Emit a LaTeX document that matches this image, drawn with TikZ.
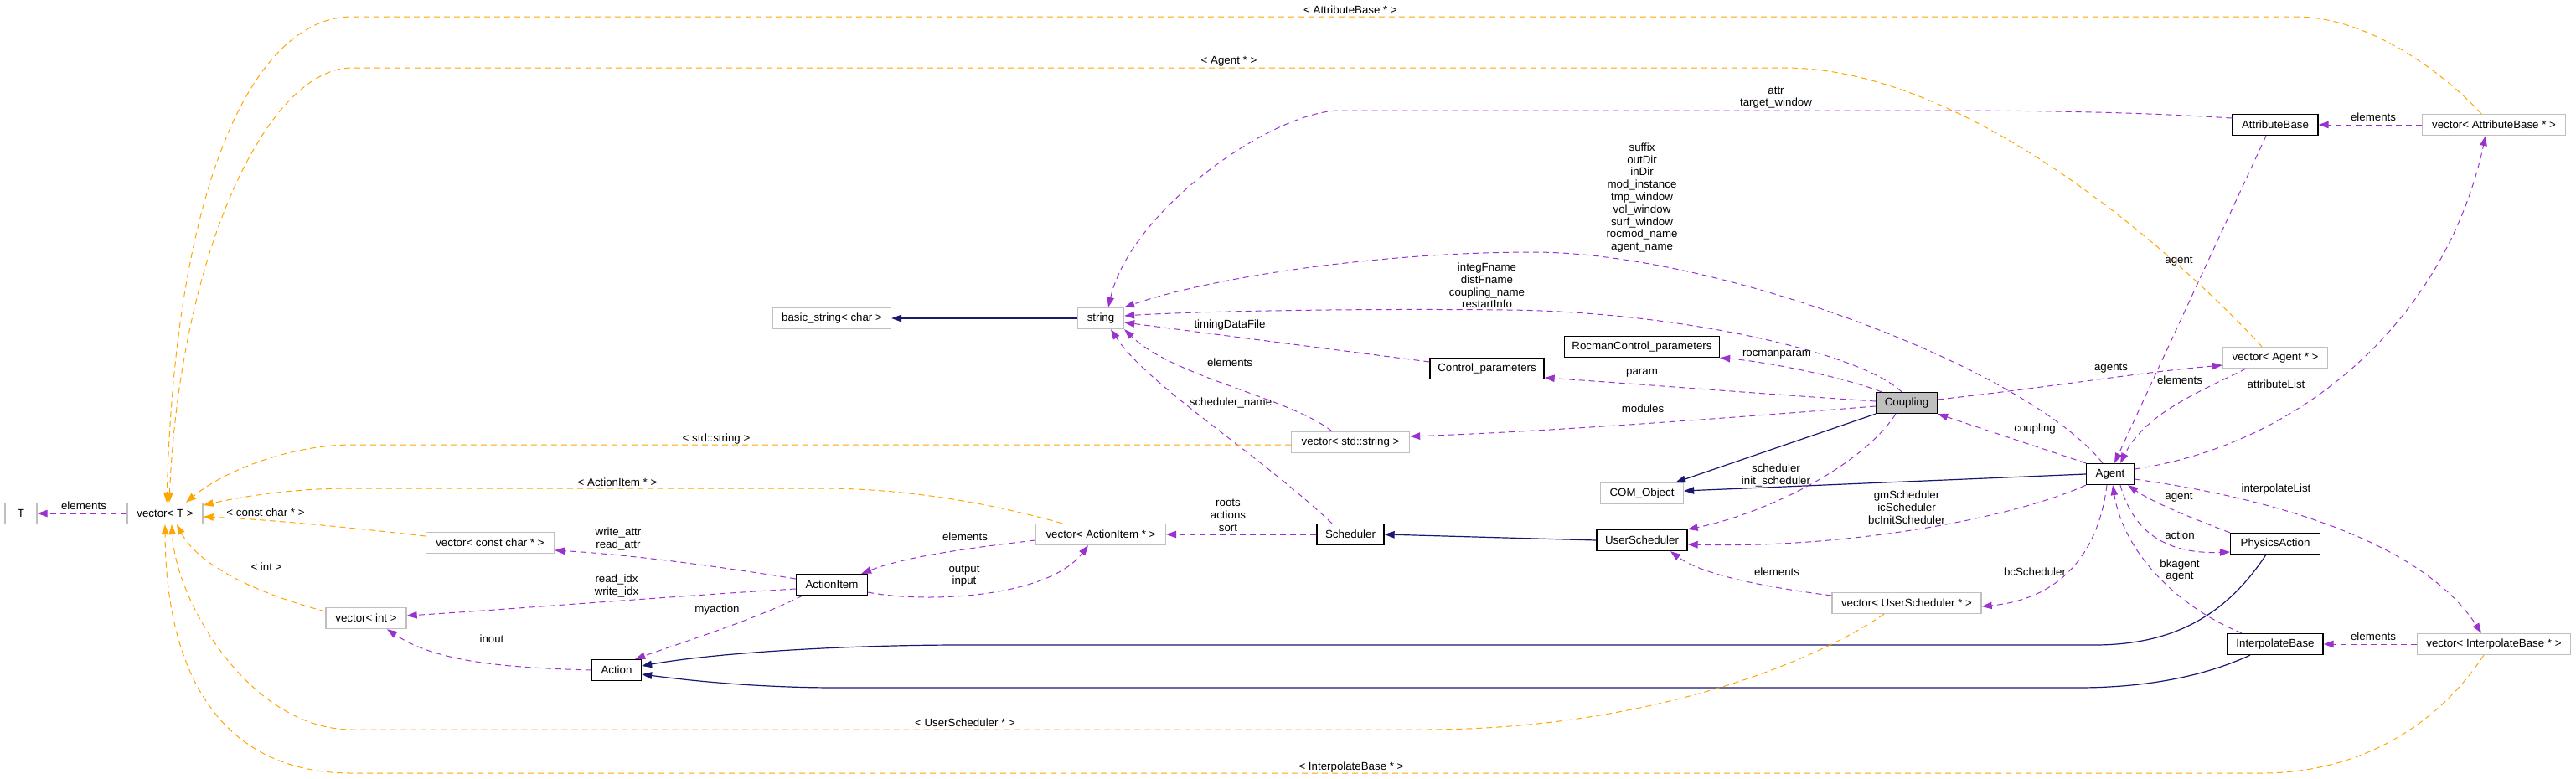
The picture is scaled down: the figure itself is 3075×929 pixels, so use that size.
\documentclass[tikz,border=0pt]{standalone}
\usepackage{fontspec}
\setmainfont{Liberation Sans}
\usetikzlibrary{arrows.meta}
\definecolor{inhcol}{HTML}{191970}
\definecolor{usecol}{HTML}{9A32CD}
\definecolor{tplcol}{HTML}{FFA500}
\definecolor{undoc}{HTML}{BFBFBF}
\begin{document}
\begin{tikzpicture}[
  x=1pt, y=-1pt,
  every node/.style={font=\fontsize{13.3}{14.8}\selectfont},
  box/.style={draw=black, line width=1.3pt, minimum height=25pt, inner sep=0pt, fill=white},
  ext/.style={box, draw=undoc},
  cur/.style={box, fill=undoc},
  lbl/.style={align=center, inner sep=0pt},
  inh/.style={color=inhcol, line width=1.2pt, -{Triangle[length=12pt,width=8.5pt]}},
  use/.style={color=usecol, line width=1pt, dash pattern=on 7pt off 5pt, -{Triangle[length=12pt,width=8.5pt]}},
  tpl/.style={color=tplcol, line width=1pt, dash pattern=on 7pt off 5pt, -{Triangle[length=12pt,width=8.5pt]}}
]
\useasboundingbox (0,0) rectangle (3075,929);

\node[ext, minimum width=38pt] (tparam) at (25,613) {T};
\node[ext, minimum width=90pt] (vecT) at (197,613) {vector< T >};
\node[ext, minimum width=153pt] (vecCC) at (585,648) {vector< const char * >};
\node[ext, minimum width=96pt] (vecInt) at (437,738) {vector< int >};
\node[box, minimum width=59pt] (action) at (736,800) {Action};
\node[ext, minimum width=141pt] (bstr) at (993,380) {basic\_string< char >};
\node[ext, minimum width=55pt] (str) at (1314,380) {string};
\node[box, minimum width=85pt] (aitem) at (993,698) {ActionItem};
\node[ext, minimum width=155pt] (vecAI) at (1314,638) {vector< ActionItem * >};
\node[ext, minimum width=141pt] (vecStr) at (1612,528) {vector< std::string >};
\node[box, minimum width=80pt] (sched) at (1612,638) {Scheduler};
\node[box, minimum width=185pt] (rcp) at (1960,414) {RocmanControl\_parameters};
\node[box, minimum width=136pt] (ctrl) at (1775,440) {Control\_parameters};
\node[cur, minimum width=73pt] (coupling) at (2276,481) {Coupling};
\node[ext, minimum width=99pt] (com) at (1960,589) {COM\_Object};
\node[box, minimum width=108pt] (usched) at (1960,645) {UserScheduler};
\node[ext, minimum width=178pt] (vecUS) at (2276,720) {vector< UserScheduler * >};
\node[box, minimum width=102pt] (attr) at (2716,149) {AttributeBase};
\node[ext, minimum width=171pt] (vecAB) at (2977,149) {vector< AttributeBase * >};
\node[ext, minimum width=125pt] (vecAg) at (2716,427) {vector< Agent * >};
\node[box, minimum width=57pt] (agent) at (2519,566) {Agent};
\node[box, minimum width=107pt] (phys) at (2716,649) {PhysicsAction};
\node[box, minimum width=114pt] (interp) at (2716,769) {InterpolateBase};
\node[ext, minimum width=183pt] (vecIB) at (2977,769) {vector< InterpolateBase * >};

% inheritance
\draw[inh] (str.west) -- (bstr.east);
\draw[inh] (coupling.south west) -- ([xshift=-10pt]com.north east);
\draw[inh] (agent.west) -- ([yshift=3pt]com.east);
\draw[inh] (usched.west) -- (sched.east);
\draw[inh] ([xshift=-11pt]phys.south) .. controls (2660,730) and (2600,770) .. (2500,770) -- (1150,770) .. controls (1000,770) and (850,780) .. ([yshift=5pt]action.east);
\draw[inh] ([xshift=-30pt]interp.south) .. controls (2630,808) and (2560,821) .. (2480,821) -- (1000,821) .. controls (900,821) and (820,812) .. ([yshift=-5pt]action.east);

% usage
\draw[use] (vecT.west) -- (tparam.east);
\draw[use] ([yshift=8pt]attr.west) .. controls (2550,134) and (2450,132) .. (2300,132) -- (1600,132) .. controls (1520,132) and (1350,250) .. ([xshift=9pt]str.north);
\draw[use] ([xshift=-9pt]agent.north) .. controls (2420,440) and (2050,301) .. (1830,301) .. controls (1650,301) and (1450,330) .. (str.north east);
\draw[use] ([xshift=-6pt]coupling.north) .. controls (2220,420) and (2000,372) .. (1800,370) .. controls (1600,368) and (1420,372) .. ([yshift=3pt]str.east);
\draw[use] ([yshift=8pt]ctrl.west) .. controls (1550,412) and (1420,395) .. ([yshift=-5pt]str.east);
\draw[use] ([xshift=-22pt]vecStr.north) .. controls (1540,475) and (1400,450) .. (str.south east);
\draw[use] ([xshift=-22pt]sched.north) .. controls (1500,540) and (1370,460) .. ([xshift=12pt]str.south);
\draw[use] ([xshift=-30pt]coupling.north) .. controls (2200,450) and (2110,432) .. (rcp.south east);
\draw[use] ([yshift=2pt]coupling.west) .. controls (2100,470) and (1950,458) .. ([yshift=-11pt]ctrl.east);
\draw[use] ([yshift=-4pt]coupling.west) .. controls (2050,500) and (1850,515) .. ([yshift=7pt]vecStr.east);
\draw[use] ([xshift=-13pt]coupling.south) .. controls (2220,560) and (2100,615) .. (usched.north east);
\draw[use] (agent.south west) .. controls (2400,620) and (2200,655) .. ([yshift=-5pt]usched.east);
\draw[use] ([yshift=9pt]vecUS.west) .. controls (2100,700) and (2030,685) .. ([xshift=34pt]usched.south);
\draw[use] ([xshift=-4pt]agent.south) .. controls (2505,660) and (2460,715) .. ([yshift=-4pt]vecUS.east);
\draw[use] ([yshift=4pt]coupling.east) .. controls (2450,462) and (2550,445) .. ([yshift=-9pt]vecAg.west);
\draw[use] ([xshift=-35pt]vecAg.south) .. controls (2620,470) and (2560,495) .. ([xshift=12pt]agent.north);
\draw[use] ([xshift=-11pt]attr.south) -- ([xshift=5pt]agent.north);
\draw[use] ([yshift=6pt]agent.east) .. controls (2750,530) and (2920,380) .. ([xshift=-10pt]vecAB.south);
\draw[use] (vecAB.west) -- (attr.east);
\draw[use] (agent.north west) -- (coupling.south east);
\draw[use] (phys.north west) .. controls (2620,620) and (2570,600) .. ([xshift=-8pt]agent.south east);
\draw[use] ([xshift=12pt]agent.south) .. controls (2545,630) and (2580,662) .. ([yshift=-10pt]phys.west);
\draw[use] ([xshift=-40pt]interp.north) .. controls (2600,725) and (2535,660) .. ([xshift=3pt]agent.south);
\draw[use] ([yshift=-6pt]agent.east) .. controls (2750,600) and (2900,660) .. ([xshift=-15pt]vecIB.north);
\draw[use] (vecIB.west) -- (interp.east);
\draw[use] (sched.west) -- (vecAI.east);
\draw[use] ([yshift=-7pt]vecAI.west) .. controls (1150,655) and (1080,665) .. ([xshift=-8pt]aitem.north east);
\draw[use] ([yshift=-9pt]aitem.east) .. controls (1100,720) and (1250,715) .. ([xshift=-15pt]vecAI.south);
\draw[use] ([yshift=7pt]aitem.west) .. controls (850,675) and (750,662) .. ([yshift=-9pt]vecCC.east);
\draw[use] ([yshift=-5pt]aitem.west) .. controls (800,712) and (600,728) .. ([yshift=3pt]vecInt.east);
\draw[use] ([xshift=8pt]aitem.south west) .. controls (900,740) and (820,765) .. ([xshift=-8pt]action.north east);
\draw[use] (action.west) .. controls (600,797) and (520,790) .. ([xshift=25pt]vecInt.south);

% template instances
\draw[tpl] ([xshift=-15pt]vecAB.north) .. controls (2920,90) and (2830,20) .. (2740,20) -- (420,20) .. controls (310,20) and (210,200) .. ([xshift=2pt]vecT.north);
\draw[tpl] ([xshift=-16pt]vecAg.north) .. controls (2600,305) and (2350,81) .. (2130,81) -- (420,81) .. controls (320,81) and (215,300) .. ([xshift=5pt]vecT.north);
\draw[tpl] ([yshift=-3pt]vecStr.west) -- (420,531) .. controls (350,531) and (270,560) .. ([xshift=25pt]vecT.north);
\draw[tpl] ([xshift=-46pt]vecAI.north) .. controls (1180,600) and (1080,583) .. (980,583) -- (420,583) .. controls (340,583) and (280,595) .. ([yshift=10pt]vecT.east);
\draw[tpl] ([yshift=8pt]vecCC.west) .. controls (420,630) and (320,620) .. ([yshift=-4pt]vecT.east);
\draw[tpl] ([yshift=8pt]vecInt.west) .. controls (320,712) and (240,680) .. ([xshift=14pt]vecT.south);
\draw[tpl] ([xshift=-27pt]vecUS.south) .. controls (2150,800) and (1950,871) .. (1700,871) -- (420,871) .. controls (300,871) and (210,720) .. ([xshift=8pt]vecT.south);
\draw[tpl] ([xshift=-12pt]vecIB.south) .. controls (2900,880) and (2800,923) .. (2700,923) -- (420,923) .. controls (260,923) and (198,800) .. (vecT.south);

% labels
\node[lbl] (lbElemT) at (100,604) {elements};
\node[lbl] (lbCChar) at (317,612) {< const char * >};
\node[lbl] (lbAItem) at (737,576) {< ActionItem * >};
\node[lbl] (lbAttrIO) at (738,643.5) {write\_attr\\read\_attr};
\node[lbl] (lbInt) at (318,677) {< int >};
\node[lbl] (lbIdx) at (736,699.5) {read\_idx\\write\_idx};
\node[lbl] (lbInout) at (587,763) {inout};
\node[lbl] (lbStdStr) at (855,524) {< std::string >};
\node[lbl] (lbTiming) at (1468,388) {timingDataFile};
\node[lbl] (lbElemStr) at (1468,433) {elements};
\node[lbl] (lbSchedName) at (1469,481) {scheduler\_name};
\node[lbl] (lbRoots) at (1466,615.5) {roots\\actions\\sort};
\node[lbl] (lbElemAI) at (1152,641) {elements};
\node[lbl] (lbOutIn) at (1151,687.5) {output\\input};
\node[lbl] (lbMyAct) at (856,728) {myaction};
\node[lbl] (lbAB) at (1612,12) {< AttributeBase * >};
\node[lbl] (lbAg) at (1467,73) {< Agent * >};
\node[lbl] (lbAttrWin) at (2120,116.5) {attr\\target\_window};
\node[lbl] (lbNames) at (1960,236) {suffix\\outDir\\inDir\\mod\_instance\\tmp\_window\\vol\_window\\surf\_window\\rocmod\_name\\agent\_name};
\node[lbl] (lbFiles) at (1775,341) {integFname\\distFname\\coupling\_name\\restartInfo};
\node[lbl] (lbRocman) at (2121,423) {rocmanparam};
\node[lbl] (lbParam) at (1960,445) {param};
\node[lbl] (lbModules) at (1961,488) {modules};
\node[lbl] (lbSched) at (2120,567.5) {scheduler\\init\_scheduler};
\node[lbl] (lbInitSched) at (2276,605.5) {gmScheduler\\icScheduler\\bcInitScheduler};
\node[lbl] (lbElemUS) at (2121,683) {elements};
\node[lbl] (lbUS) at (1152,863) {< UserScheduler * >};
\node[lbl] (lbIB) at (1613,916) {< InterpolateBase * >};
\node[lbl] (lbElemAB) at (2833,140) {elements};
\node[lbl] (lbAgentA) at (2601,312) {agent};
\node[lbl] (lbAgents) at (2520,440) {agents};
\node[lbl] (lbElemAg) at (2602,454) {elements};
\node[lbl] (lbAttrList) at (2717,459) {attributeList};
\node[lbl] (lbCoupling) at (2429,512) {coupling};
\node[lbl] (lbInterpList) at (2717,584) {interpolateList};
\node[lbl] (lbAgentP) at (2601,594) {agent};
\node[lbl] (lbAction) at (2602,639) {action};
\node[lbl] (lbBkAgent) at (2602,681) {bkagent\\agent};
\node[lbl] (lbBcSched) at (2429,683) {bcScheduler};
\node[lbl] (lbElemIB) at (2833,760) {elements};
\end{tikzpicture}
\end{document}
